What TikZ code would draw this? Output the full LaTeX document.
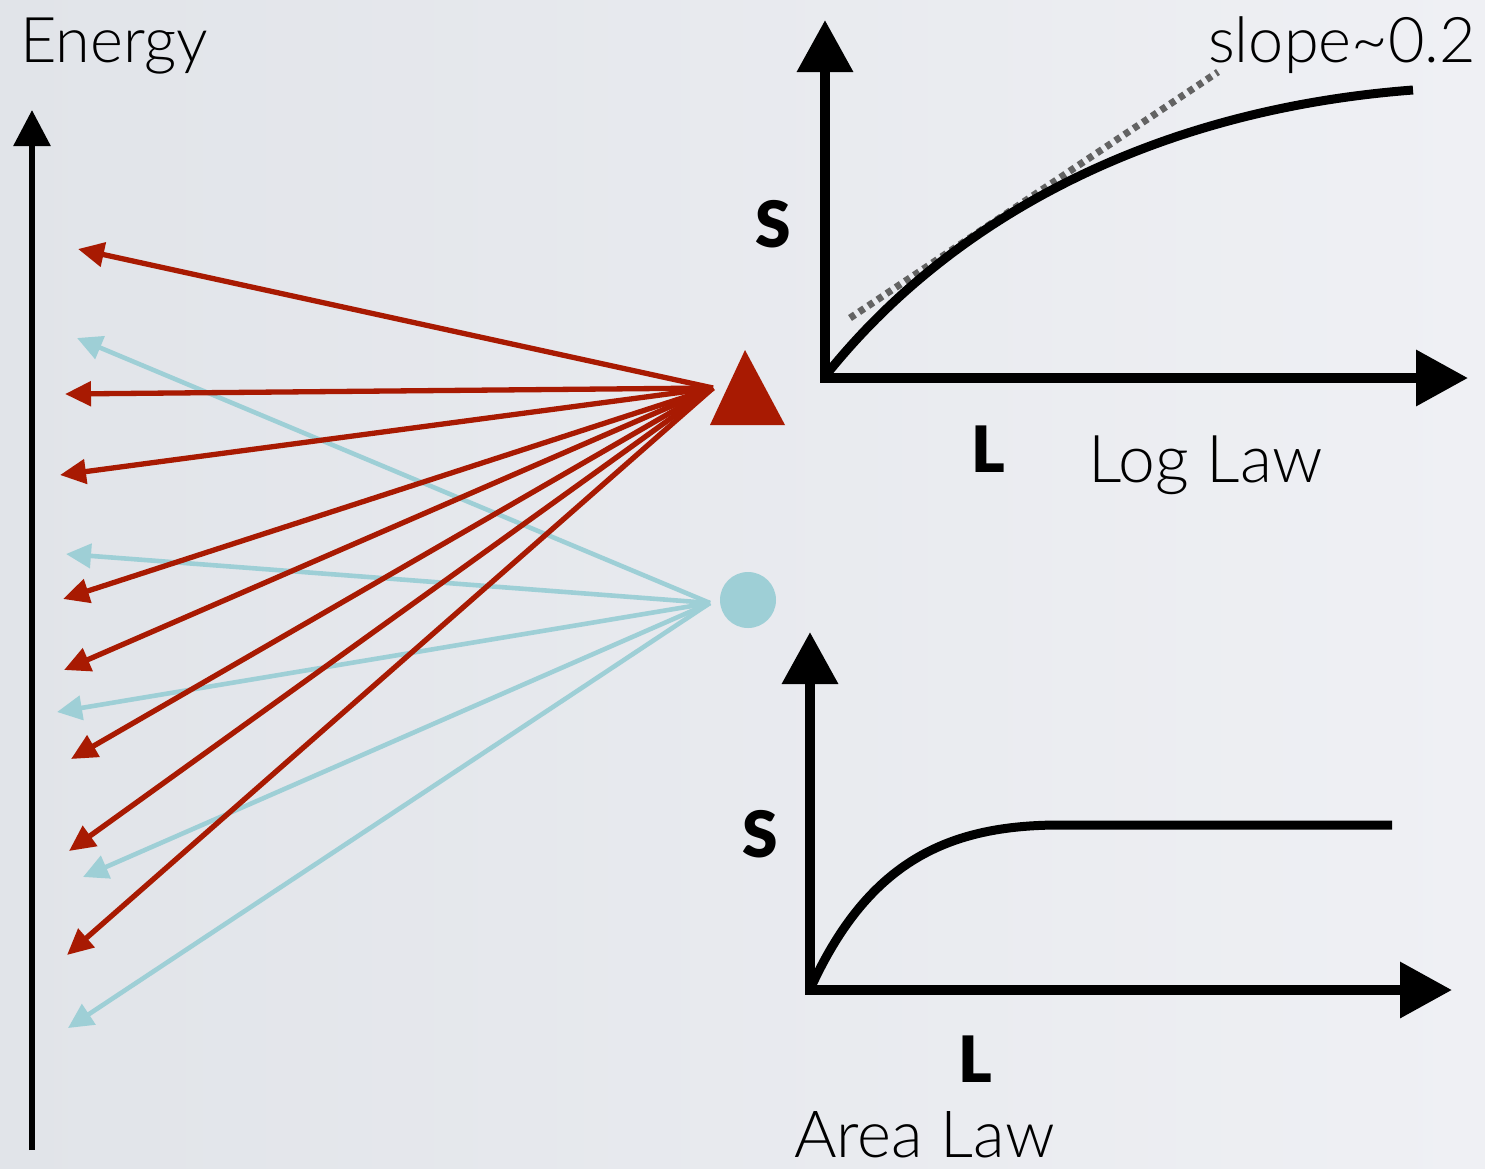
\documentclass[tikz,border=0pt]{standalone}
\usepackage{fontspec}
\usetikzlibrary{arrows.meta}
\newfontfamily\lightf{Lato Light}
\newfontfamily\blackf{Lato Black}
\definecolor{bgL}{HTML}{E1E4E9}
\definecolor{bgR}{HTML}{EFF0F4}
\definecolor{redc}{HTML}{A81A02}
\definecolor{cyanc}{HTML}{9ECFD6}
\definecolor{dotg}{HTML}{636363}
\begin{document}
\begin{tikzpicture}[x=1pt,y=-1pt,
  redarr/.style={draw=redc, line width=5.3pt, -{Triangle[length=26pt,width=24pt]}},
  cyanarr/.style={draw=cyanc, line width=4.6pt, -{Triangle[length=25pt,width=24pt]}},
  bigaxis/.style={line width=10pt, -{Triangle[length=52pt,width=54pt]}},
  lighttext/.style={font=\lightf\fontsize{#1}{#1}\selectfont, inner sep=0pt, anchor=base west},
  boldtext/.style={font=\blackf\fontsize{64}{64}\selectfont, inner sep=0pt, anchor=base}]
\useasboundingbox (0,0) rectangle (1485,1168);
\shade[left color=bgL, right color=bgR] (0,0) rectangle (1485,1168);

% Energy axis
\coordinate (eb) at (32,1150);
\coordinate (et) at (32,110);
\draw[line width=6pt, -{Triangle[length=36pt,width=36pt]}] (eb) -- (et);
\node[lighttext=63] (energy) at (20,62) {Energy};

% sources
\fill[redc] (745,350) -- (785,425) -- (710,425) -- cycle;
\coordinate (tri) at (747,400);
\node[circle, fill=cyanc, minimum size=56pt, inner sep=0pt] (dot) at (748,600) {};
\coordinate (rs) at (713,388);
\coordinate (cs) at (710,603);

% cyan arrows
\foreach \n/\x/\y in {c1/77/338, c2/66/554, c3/57/712, c4/83/877, c5/68/1028}{
  \coordinate (\n) at (\x,\y);
  \draw[cyanarr] (cs) -- (\n);
}
% red arrows
\foreach \n/\x/\y in {r1/78/249, r2/65/394, r3/60/475, r4/63/599, r5/64/670, r6/71/759, r7/69/851, r8/67/955}{
  \coordinate (\n) at (\x,\y);
  \draw[redarr] (rs) -- (\n);
}

% Log law plot
\coordinate (o1) at (825,378);
\coordinate (y1) at (825,20);
\coordinate (x1) at (1468,378);
\draw[bigaxis] ([yshift=5pt]o1) -- (y1);
\draw[bigaxis] ([xshift=-5pt]o1) -- (x1);
\coordinate (d1) at (850,318);
\coordinate (d2) at (1218,72);
\draw[dotg, line width=7pt, dash pattern=on 6pt off 5pt] (d1) -- (d2);
\coordinate (ce1) at (1413,90);
\draw[line width=9pt] (826,375) .. controls (950,220) and (1150,110) .. (ce1);
\node[lighttext=63] (slope) at (1208,62) {slope\textasciitilde 0.2};
\node[boldtext] (s1) at (773,247) {S};
\node[boldtext] (l1) at (988,472) {L};
\node[lighttext=66] (loglaw) at (1088,482) {Log Law};

% Area law plot
\coordinate (o2) at (810,990);
\coordinate (y2) at (810,632);
\coordinate (x2) at (1452,990);
\draw[bigaxis] ([yshift=5pt]o2) -- (y2);
\draw[bigaxis] ([xshift=-5pt]o2) -- (x2);
\coordinate (ce2) at (1392,825);
\draw[line width=9pt] (812,985) .. controls (870,860) and (950,825) .. (1060,825) -- (ce2);
\node[boldtext] (s2) at (760,857) {S};
\node[boldtext] (l2) at (975,1082) {L};
\node[lighttext=65] (arealaw) at (794,1157) {Area Law};
\end{tikzpicture}
\end{document}
